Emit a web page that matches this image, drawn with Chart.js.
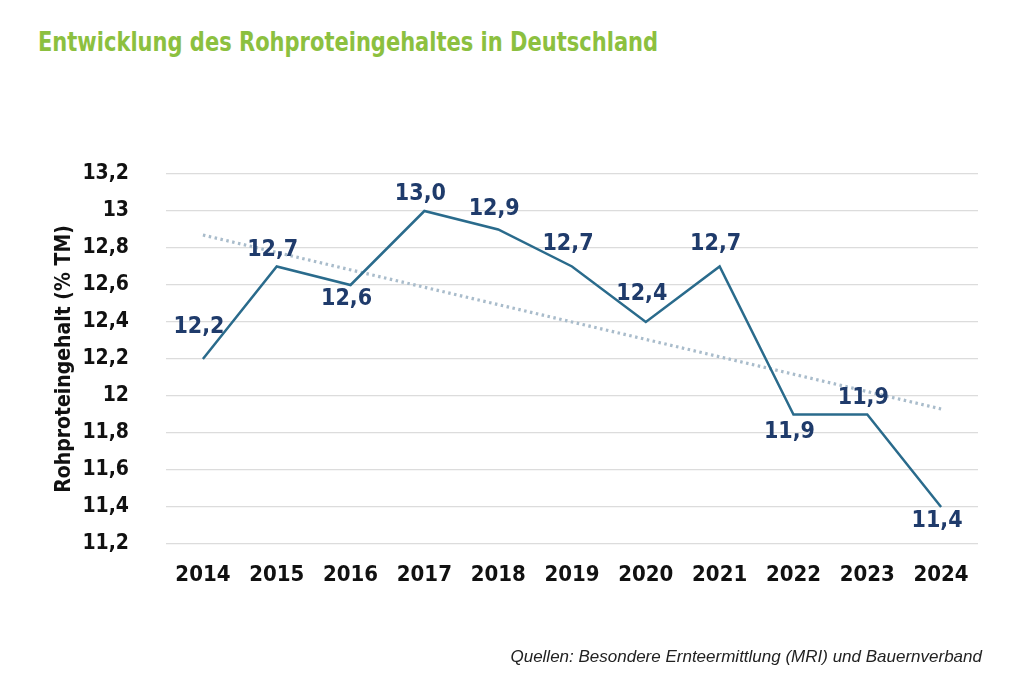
<!DOCTYPE html>
<html>
<head>
<meta charset="utf-8">
<script src="https://cdn.jsdelivr.net/npm/chart.js@4.4.1/dist/chart.umd.min.js"></script>
<style>
  html, body { margin: 0; padding: 0; background: #ffffff; }
  #wrap { position: relative; width: 1024px; height: 682px; overflow: hidden; background: #fff; }
  #title { position: absolute; left: 38px; top: 26px; font-family: 'DejaVu Sans Condensed', 'Liberation Sans Narrow', sans-serif; font-weight: bold; font-size: 27px; color: #8cc03f; white-space: nowrap; transform: scaleX(0.865); transform-origin: 0 0; }
  #source { position: absolute; right: 42px; top: 647px; font-family: 'Liberation Sans', Arial, sans-serif; font-style: italic; font-size: 17px; color: #222; white-space: nowrap; }
  canvas { position: absolute; left: 0; top: 0; }
</style>
</head>
<body>
<div id="wrap">
  <div id="title">Entwicklung des Rohproteingehaltes in Deutschland</div>
  <canvas id="c" width="1024" height="682"></canvas>
  <div id="source">Quellen: Besondere Ernteermittlung (MRI) und Bauernverband</div>
</div>
<script>
const years = ['2014','2015','2016','2017','2018','2019','2020','2021','2022','2023','2024'];
const protein = [12.2, 12.7, 12.6, 13.0, 12.9, 12.7, 12.4, 12.7, 11.9, 11.9, 11.4];
const trend = [12.87, null, null, null, null, null, null, null, null, null, 11.93];
const yAxisTitle = 'Rohproteingehalt (% TM)';

const fmt = v => {
  const n = Math.round(v * 10) / 10;
  return String(n).replace('.', ',');
};
const fmt1 = v => v.toFixed(1).replace('.', ',');

const NARROW = "'DejaVu Sans Condensed', 'Liberation Sans Narrow', sans-serif";

const pointLabels = {
  id: 'pointLabels',
  afterDatasetsDraw(chart, args, opts) {
    const meta = chart.getDatasetMeta(0);
    const ctx = chart.ctx;
    ctx.save();
    ctx.font = 'bold 23px ' + NARROW;
    ctx.fillStyle = '#1f3b6b';
    ctx.textAlign = 'center';
    ctx.textBaseline = 'middle';
    meta.data.forEach((pt, i) => {
      const dy = opts.offsets[i];
      ctx.fillText(fmt1(protein[i]), pt.x - 4, pt.y + dy);
    });
    ctx.restore();
  }
};

new Chart(document.getElementById('c'), {
  type: 'line',
  data: {
    labels: years,
    datasets: [
      {
        label: 'Rohproteingehalt',
        data: protein,
        borderColor: '#2a6b8c',
        borderWidth: 2.5,
        pointRadius: 0,
        tension: 0,
        fill: false,
        order: 0
      },
      {
        label: 'Trend',
        data: trend,
        spanGaps: true,
        borderColor: '#a9bccb',
        borderWidth: 3.2,
        borderDash: [2.5, 3.5],
        pointRadius: 0,
        tension: 0,
        fill: false,
        order: 1
      }
    ]
  },
  options: {
    responsive: false,
    animation: false,
    devicePixelRatio: 1,
    layout: { padding: { top: 174, right: 46, bottom: 0, left: 0 } },
    plugins: {
      legend: { display: false },
      tooltip: { enabled: false },
      pointLabels: { offsets: [-32, -16, 14, -17, -20, -22, -28, -22, 18, -16, 14] }
    },
    scales: {
      x: {
        offset: true,
        grid: { display: false, drawTicks: false },
        border: { display: false },
        ticks: {
          color: '#111',
          padding: 18,
          font: { family: NARROW, weight: 'bold', size: 22 }
        },
        afterFit(scale) { scale.height = 138; }
      },
      y: {
        min: 11.2,
        max: 13.2,
        grid: { color: '#dcdcdc', lineWidth: 1.2, drawTicks: false },
        border: { display: false },
        ticks: {
          stepSize: 0.2,
          color: '#111',
          padding: 37,
          font: { family: NARROW, weight: 'bold', size: 21 },
          callback: v => fmt(v)
        },
        title: {
          display: true,
          text: yAxisTitle,
          color: '#111',
          font: { family: NARROW, weight: 'bold', size: 21 },
          padding: { top: 52, bottom: 0 }
        },
        afterFit(scale) { scale.width = 166; }
      }
    }
  },
  plugins: [pointLabels]
});
</script>
</body>
</html>
